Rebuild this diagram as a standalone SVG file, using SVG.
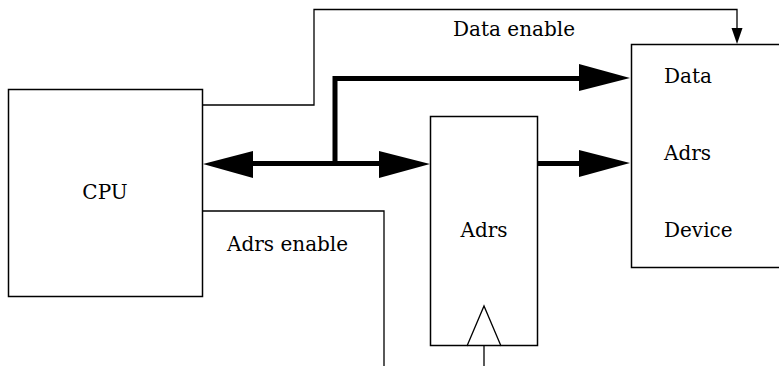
<svg xmlns="http://www.w3.org/2000/svg" width="779" height="366" viewBox="0 0 779 366">
<style>
.box{fill:#fff;stroke:#000;stroke-width:1.5}
.thin{fill:none;stroke:#000;stroke-width:1.3}
.bus{fill:none;stroke:#000;stroke-width:5}
.head{fill:#000;stroke:none}
text{font-family:"DejaVu Serif","Liberation Serif",serif;font-size:20px;fill:#000}
</style>
<rect width="779" height="366" fill="#fff"/>
<g id="cpu">
<rect class="box" x="8.5" y="89.5" width="194" height="207"/>
<text x="105" y="199" text-anchor="middle">CPU</text>
</g>
<g id="adrs-register">
<rect class="box" x="430.5" y="116.5" width="107" height="229"/>
<polyline class="thin" points="467,346 484,306 501,346"/>
<text x="484" y="237" text-anchor="middle">Adrs</text>
</g>
<g id="device">
<rect class="box" x="631.5" y="44.5" width="160" height="223"/>
<text x="664" y="83">Data</text>
<text x="664" y="160">Adrs</text>
<text x="664" y="237">Device</text>
</g>
<g id="connectors">
<polyline class="thin" points="202,105 314,105 314,9.5 737,9.5 737,30"/>
<polygon class="head" points="731.5,28 742.5,28 737,44"/>
<polyline class="thin" points="202,211 384,211 384,366"/>
<line class="bus" x1="250" y1="163.5" x2="385" y2="163.5"/>
<polygon class="head" points="203,164 253,151 253,178"/>
<polygon class="head" points="430,164 379,151 379,178"/>
<polyline class="bus" points="335,163.5 335,78.5 585,78.5"/>
<polygon class="head" points="630,78 579,64 579,91"/>
<line class="bus" x1="537" y1="163.5" x2="585" y2="163.5"/>
<polygon class="head" points="630,163 579,150 579,177"/>
<line class="thin" x1="484" y1="346" x2="484" y2="366"/>
<text x="514" y="36" text-anchor="middle">Data enable</text>
<text x="227" y="251">Adrs enable</text>
</g>
</svg>
